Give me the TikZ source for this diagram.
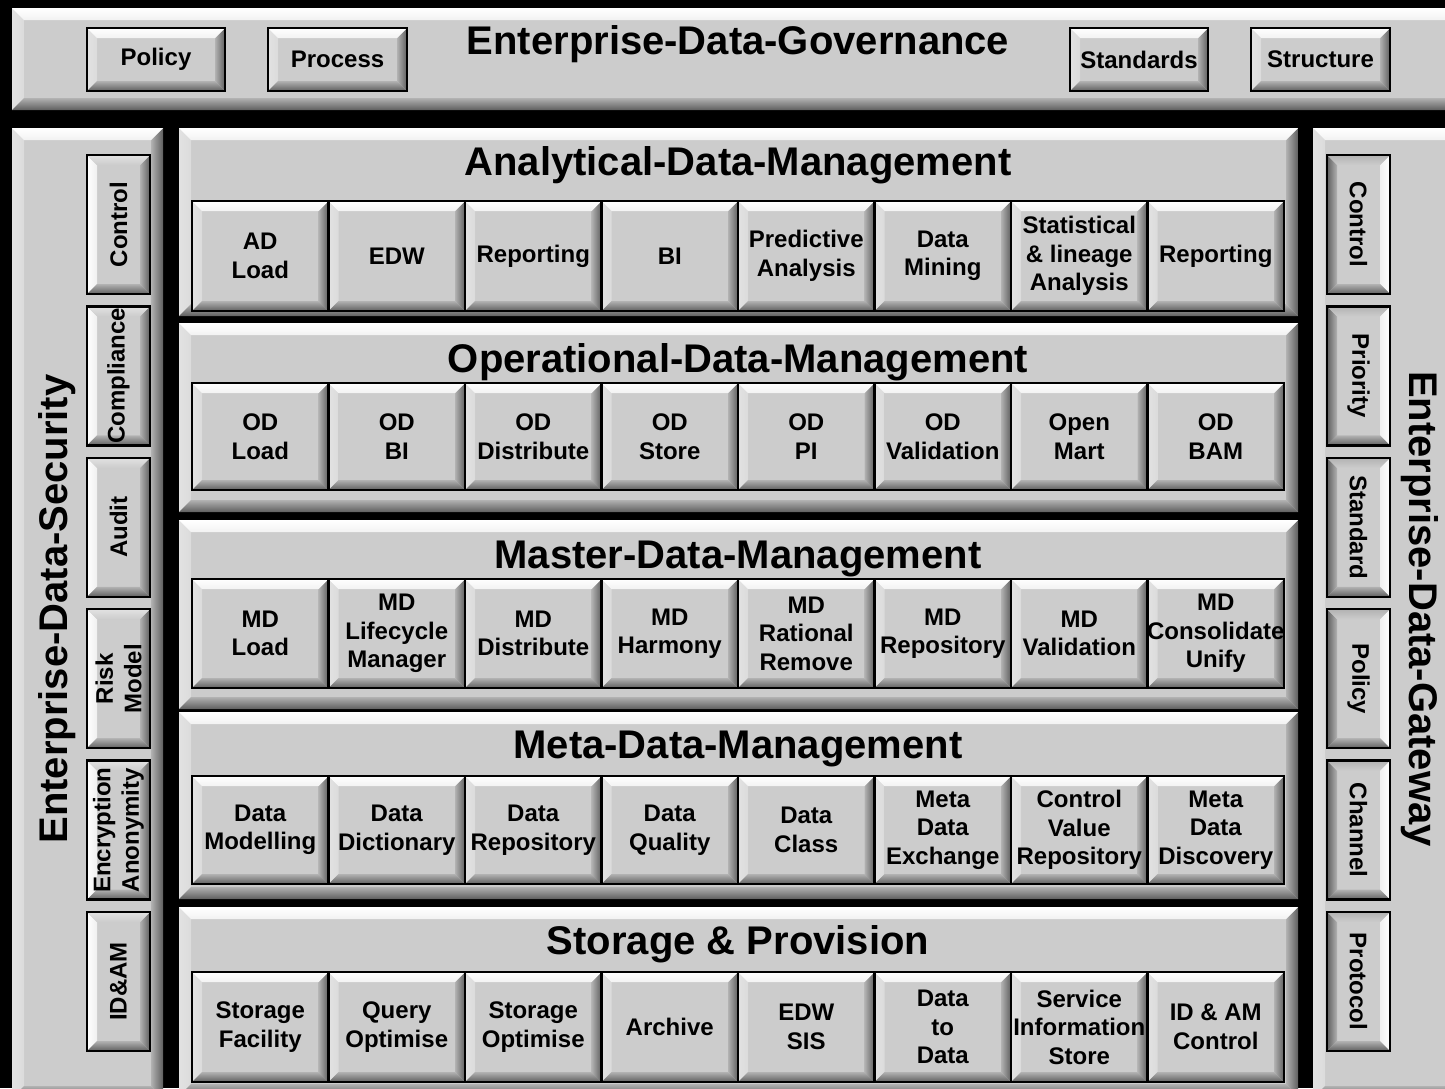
\documentclass[tikz,border=0pt]{standalone}
\usepackage{fontspec}
\setmainfont{Liberation Sans}
\definecolor{face}{RGB}{204,204,204}
\definecolor{lite}{RGB}{226,226,226}
\definecolor{darkin}{RGB}{178,178,178}
\definecolor{darkout}{RGB}{95,95,95}
\tikzset{
  bvNT/.style={top color=white, bottom color=white!75!face},
  bvNL/.style={left color=lite, right color=white!30!face},
  bvNR/.style={left color=darkin, right color=darkout},
  bvNB/.style={top color=darkin, bottom color=darkout},
  bvLT/.style={top color=lite, bottom color=face},
  bvLL/.style={left color=white, right color=white!70!face},
  bvLR/.style={left color=darkin, right color=darkout},
  bvLB/.style={top color=darkin, bottom color=darkout},
  bvRT/.style={top color=darkin, bottom color=face},
  bvRL/.style={left color=darkout, right color=darkin},
  bvRR/.style={left color=white!70!face, right color=white},
  bvRB/.style={top color=darkin, bottom color=darkout},
  lbl/.style={font=\fontsize{24}{28.5}\selectfont\bfseries, align=center, inner sep=0pt, text=black},
  ttl/.style={font=\fontsize{40}{48}\selectfont\bfseries, inner sep=0pt, text=black},
  border/.style={draw=black, line width=2.5pt}
}
\newcommand{\bev}[6]{%
 \fill[face] (#1,#2) rectangle (#3,#4);
 \shade[bv#6L] (#1,#2) -- ({#1+#5},{#2+#5}) -- ({#1+#5},{#4-#5}) -- (#1,#4) -- cycle;
 \shade[bv#6R] (#3,#2) -- (#3,#4) -- ({#3-#5},{#4-#5}) -- ({#3-#5},{#2+#5}) -- cycle;
 \shade[bv#6T] (#1,#2) -- (#3,#2) -- ({#3-#5},{#2+#5}) -- ({#1+#5},{#2+#5}) -- cycle;
 \shade[bv#6B] (#1,#4) -- (#3,#4) -- ({#3-#5},{#4-#5}) -- ({#1+#5},{#4-#5}) -- cycle;
}
\newcommand{\cellbox}[8]{%
 \bev{#1}{#2}{#3}{#4}{10}{#8}
 \draw[border] (#1,#2) rectangle (#3,#4);
 \node[lbl, rotate=#7] (#5) at ({(#1+#3)/2},{(#2+#4)/2}) {#6};
}
\begin{document}
\begin{tikzpicture}[x=1pt,y=-1pt]
\useasboundingbox (0,0) rectangle (1445,1088);
\clip (0,0) rectangle (1445,1088);
\fill[black] (0,0) rectangle (1445,1088);
% panels
\bev{12}{8}{1460}{110}{12}{N}
\bev{12}{128}{163}{1098}{12}{N}
\bev{1313}{128}{1460}{1098}{12}{N}
\bev{179}{128}{1298}{316}{12}{N}
\bev{179}{323}{1298}{512}{12}{N}
\bev{179}{520}{1298}{709}{12}{N}
\bev{179}{712}{1298}{899}{12}{N}
\bev{179}{907}{1298}{1096}{12}{N}
% titles
\node[ttl, anchor=base] (tgov) at (738,54) {Enterprise-Data-Governance};
\node[ttl, anchor=base] (tana) at (738,175) {Analytical-Data-Management};
\node[ttl, anchor=base] (tope) at (738,372) {Operational-Data-Management};
\node[ttl, anchor=base] (tmas) at (738,568) {Master-Data-Management};
\node[ttl, anchor=base] (tmet) at (738,758) {Meta-Data-Management};
\node[ttl, anchor=base] (tsto) at (738,954) {Storage \& Provision};
\node[ttl, rotate=90] (tsec) at (57,609) {Enterprise-Data-Security};
\node[ttl, rotate=-90] (tgat) at (1420,609) {Enterprise-Data-Gateway};
% governance boxes
\cellbox{87}{28}{225}{91}{gpol}{Policy}{0}{N}
\cellbox{268}{28}{407}{91}{gpro}{Process}{0}{N}
\cellbox{1070}{28}{1208}{91}{gstd}{Standards}{0}{N}
\cellbox{1251}{28}{1390}{91}{gstr}{Structure}{0}{N}
% analytical
\foreach \t [count=\i from 0] in {{AD\\Load},EDW,Reporting,BI,{Predictive\\Analysis},{Data\\Mining},{Statistical\\\& lineage\\Analysis},Reporting}{
  \pgfmathsetmacro\xa{192+136.5*\i}\pgfmathsetmacro\xb{\xa+136.5}
  \cellbox{\xa}{201}{\xb}{311}{ana\i}{\t}{0}{N}
}
% operational
\foreach \t [count=\i from 0] in {{OD\\Load},{OD\\BI},{OD\\Distribute},{OD\\Store},{OD\\PI},{OD\\Validation},{Open\\Mart},{OD\\BAM}}{
  \pgfmathsetmacro\xa{192+136.5*\i}\pgfmathsetmacro\xb{\xa+136.5}
  \cellbox{\xa}{383}{\xb}{490}{ope\i}{\t}{0}{N}
}
% master
\foreach \t [count=\i from 0] in {{MD\\Load},{MD\\Lifecycle\\Manager},{MD\\Distribute},{MD\\Harmony},{MD\\Rational\\Remove},{MD\\Repository},{MD\\Validation},{MD\\Consolidate\\Unify}}{
  \pgfmathsetmacro\xa{192+136.5*\i}\pgfmathsetmacro\xb{\xa+136.5}
  \cellbox{\xa}{579}{\xb}{688}{mas\i}{\t}{0}{N}
}
% meta
\foreach \t [count=\i from 0] in {{Data\\Modelling},{Data\\Dictionary},{Data\\Repository},{Data\\Quality},{Data\\Class},{Meta\\Data\\Exchange},{Control\\Value\\Repository},{Meta\\Data\\Discovery}}{
  \pgfmathsetmacro\xa{192+136.5*\i}\pgfmathsetmacro\xb{\xa+136.5}
  \cellbox{\xa}{776}{\xb}{884}{met\i}{\t}{0}{N}
}
% storage
\foreach \t [count=\i from 0] in {{Storage\\Facility},{Query\\Optimise},{Storage\\Optimise},Archive,{EDW\\SIS},{Data\\to\\Data},{Service\\Information\\Store},{ID \& AM\\Control}}{
  \pgfmathsetmacro\xa{192+136.5*\i}\pgfmathsetmacro\xb{\xa+136.5}
  \cellbox{\xa}{972}{\xb}{1082}{sto\i}{\t}{0}{N}
}
% security side
\foreach \t [count=\i from 0] in {Control,Compliance,Audit,{Risk\\Model},{Encryption\\Anonymity},ID\&AM}{
  \pgfmathsetmacro\ya{155+151.4*\i}\pgfmathsetmacro\yb{\ya+139}
  \cellbox{87}{\ya}{150}{\yb}{sec\i}{\t}{90}{L}
}
% gateway side
\foreach \t [count=\i from 0] in {Control,Priority,Standard,Policy,Channel,Protocol}{
  \pgfmathsetmacro\ya{155+151.4*\i}\pgfmathsetmacro\yb{\ya+139}
  \cellbox{1327}{\ya}{1390}{\yb}{gat\i}{\t}{-90}{R}
}
\end{tikzpicture}
\end{document}
